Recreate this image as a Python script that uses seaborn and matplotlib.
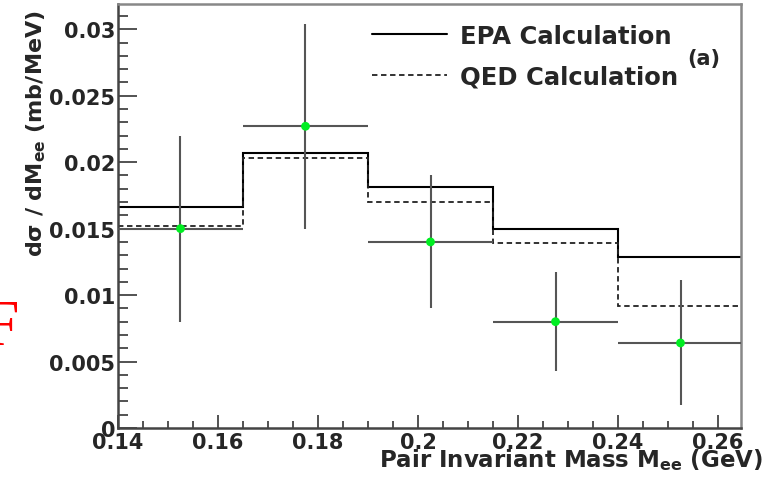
import numpy as np
import pandas as pd
import matplotlib
matplotlib.use("Agg")
import matplotlib.pyplot as plt
from matplotlib.ticker import MultipleLocator, FuncFormatter
import seaborn as sns

# ---- data ----
bin_edges = [0.14, 0.165, 0.19, 0.215, 0.24, 0.265]
epa_values = [0.0166, 0.0207, 0.0181, 0.0150, 0.0129]
qed_values = [0.0152, 0.0203, 0.0170, 0.0139, 0.0092]
data_x = [0.1525, 0.1775, 0.2025, 0.2275, 0.2525]
data_y = [0.0150, 0.0227, 0.0140, 0.0080, 0.0064]
data_yerr = [0.0070, 0.0077, 0.0050, 0.0037, 0.0047]
data_xerr = [0.0125, 0.0125, 0.0125, 0.0125, 0.0125]
x_ticks = [0.14, 0.16, 0.18, 0.20, 0.22, 0.24, 0.26]
y_ticks = [0.0, 0.005, 0.01, 0.015, 0.02, 0.025, 0.03]

sns.set_style("ticks")
plt.rcParams['font.family'] = ['DejaVu Sans']
plt.rcParams['font.weight'] = 'bold'
plt.rcParams['mathtext.fontset'] = 'custom'
plt.rcParams['mathtext.rm'] = 'DejaVu Sans:bold'
plt.rcParams['mathtext.it'] = 'DejaVu Sans:bold'
plt.rcParams['mathtext.bf'] = 'DejaVu Sans:bold'

fig = plt.figure(figsize=(7.7, 4.81), dpi=100)
ax = fig.add_axes([118/770, 1-429/481, (741-118)/770, (429-5)/481])

df = pd.DataFrame({"x": data_x, "y": data_y})

ax.stairs(epa_values, bin_edges, baseline=None, color='black', lw=1.5,
          label='EPA Calculation', zorder=2)
ax.stairs(qed_values, bin_edges, baseline=None, color='#222222', lw=1.3,
          ls=(0, (3, 2)), label='QED Calculation', zorder=2)
ax.errorbar(data_x, data_y, yerr=data_yerr, xerr=data_xerr, fmt='none',
            ecolor='#555555', elinewidth=1.5, capsize=0, zorder=3)
sns.scatterplot(data=df, x="x", y="y", ax=ax, color='#00ee22', s=40,
                edgecolor='none', zorder=4, legend=False)

ax.set_xlim(0.14, 0.2646)
ax.set_ylim(0, 0.0319)
ax.set_xlabel("")
ax.set_ylabel("")
ax.set_xticks(x_ticks)
ax.set_yticks(y_ticks)
ax.xaxis.set_minor_locator(MultipleLocator(0.005))
ax.yaxis.set_minor_locator(MultipleLocator(0.001))
fmt = FuncFormatter(lambda v, p: f"{v:g}")
ax.xaxis.set_major_formatter(fmt)
ax.yaxis.set_major_formatter(fmt)
ax.tick_params(which='both', direction='in', width=1.3, color='#444444',
               labelsize=15, top=False, right=False)
ax.tick_params(axis='y', which='major', length=13.5, pad=2)
ax.tick_params(axis='y', which='minor', length=7)
ax.tick_params(axis='x', which='major', length=9.5, pad=3)
ax.tick_params(axis='x', which='minor', length=5)
for lab in ax.get_xticklabels() + ax.get_yticklabels():
    lab.set_fontweight('bold')

for s in ['left', 'bottom']:
    ax.spines[s].set_color('#444444')
    ax.spines[s].set_linewidth(1.8)
for s in ['top', 'right']:
    ax.spines[s].set_color('#888888')
    ax.spines[s].set_linewidth(1.8)

leg = ax.legend(loc='upper left', bbox_to_anchor=((372-118)/623, (429-25)/424),
                frameon=False, fontsize=17.5, handlelength=3.1,
                handletextpad=0.5, labelspacing=0.68, borderaxespad=0,
                borderpad=0)
for t in leg.get_texts():
    t.set_fontweight('bold')

fig.text(704/770, 1-59/481, "(a)", fontsize=15, fontweight='bold',
         ha='center', va='center')

fig.text(763/770, 1-460/481, r"Pair Invariant Mass M$_{\rm ee}$ (GeV)",
         fontsize=16.5, fontweight='bold', ha='right', va='center')
fig.text(36/770, 1-10/481, r"d$\sigma$ / dM$_{\rm ee}$ (mb/MeV)",
         fontsize=16, fontweight='bold', rotation=90, ha='center', va='top')

fig.text(-18/770, 1-345/481, "F", fontsize=47, color='red',
         family='Liberation Serif', fontweight='normal',
         ha='left', va='baseline')

fig.savefig("out.png", dpi=100)
